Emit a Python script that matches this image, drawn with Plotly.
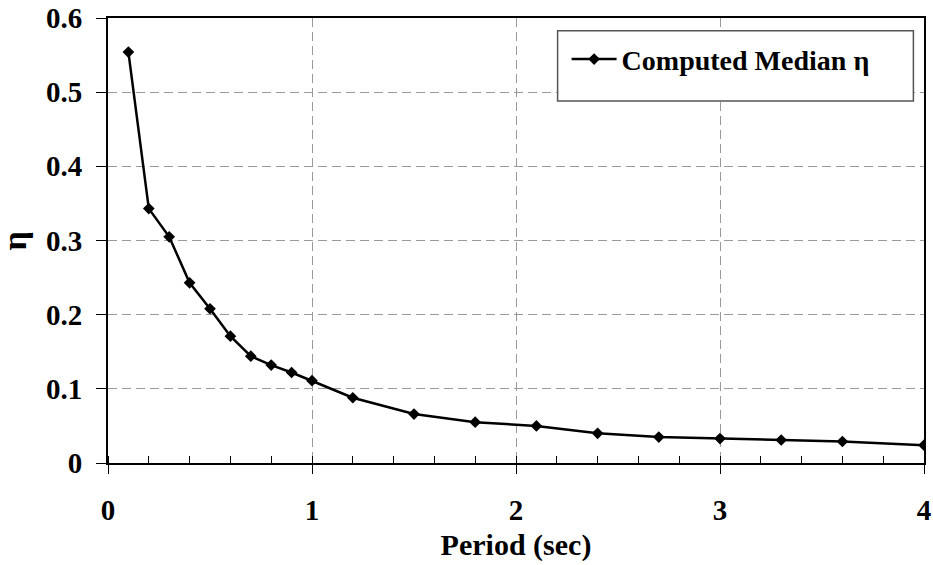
import plotly.graph_objects as go

# Period (sec) and computed median eta
period = [0.1, 0.2, 0.3, 0.4, 0.5, 0.6, 0.7, 0.8, 0.9, 1.0,
          1.2, 1.5, 1.8, 2.1, 2.4, 2.7, 3.0, 3.3, 3.6, 4.0]
eta_median = [0.554, 0.343, 0.305, 0.243, 0.208, 0.171, 0.144, 0.132, 0.122, 0.111,
              0.088, 0.066, 0.055, 0.050, 0.040, 0.035, 0.033, 0.031, 0.029, 0.024]

x_ticks = [0, 1, 2, 3, 4]
y_ticks = [0, 0.1, 0.2, 0.3, 0.4, 0.5, 0.6]
y_tick_text = ["0", "0.1", "0.2", "0.3", "0.4", "0.5", "0.6"]

FONT = "Liberation Serif, Times New Roman, serif"

fig = go.Figure()
fig.add_trace(go.Scatter(
    x=period, y=eta_median, mode="lines+markers",
    name="Computed Median η",
    line=dict(color="black", width=2.5),
    marker=dict(symbol="diamond", size=9, color="black"),
))

grid = dict(showgrid=True, gridcolor="#9a9a9a", gridwidth=1, griddash="9px,5px")

# legend frame
fig.add_shape(type="rect", xref="paper", yref="paper",
              x0=0.551, x1=0.987, y0=0.8135, y1=0.9715,
              line=dict(color="#555555", width=1.5), fillcolor="white", layer="above")

# y-axis title, rotated
fig.add_annotation(text="η", xref="paper", yref="paper",
                   x=-0.114, y=0.5, xanchor="center", yanchor="middle",
                   textangle=-90, showarrow=False,
                   font=dict(family=FONT, size=34, color="black", weight="bold"))

fig.update_layout(
    width=933, height=565,
    margin=dict(l=108, r=9, t=18, b=102, autoexpand=False),
    paper_bgcolor="white", plot_bgcolor="white",
    font=dict(family=FONT, color="black", size=28, weight="bold"),
    showlegend=True,
    legend=dict(
        x=0.562, y=0.907, xanchor="left", yanchor="middle",
        bgcolor="rgba(0,0,0,0)", borderwidth=0,
        font=dict(family=FONT, size=28, color="black", weight="bold"),
        itemwidth=45,
    ),
    xaxis=dict(
        range=[0, 4], tickvals=x_ticks, zeroline=False, automargin=False,
        showline=True, linecolor="black", linewidth=2, mirror=True,
        ticks="outside", ticklen=9, tickwidth=1.2, tickcolor="black",
        minor=dict(dtick=0.2, ticks="inside", ticklen=7, tickwidth=1.2,
                   tickcolor="black", showgrid=False),
        tickfont=dict(family=FONT, size=29, weight="bold"),
        ticklabelstandoff=11,
        title=dict(text="Period (sec)", standoff=9,
                   font=dict(family=FONT, size=30, weight="bold")),
        **grid,
    ),
    yaxis=dict(
        range=[0, 0.6], tickvals=y_ticks, ticktext=y_tick_text, zeroline=False,
        automargin=False,
        showline=True, linecolor="black", linewidth=2, mirror=True,
        ticks="outside", ticklen=10, tickwidth=1.2, tickcolor="black",
        tickfont=dict(family=FONT, size=29, weight="bold"),
        ticklabelstandoff=8,
        **grid,
    ),
)

fig.write_html("out.html")
